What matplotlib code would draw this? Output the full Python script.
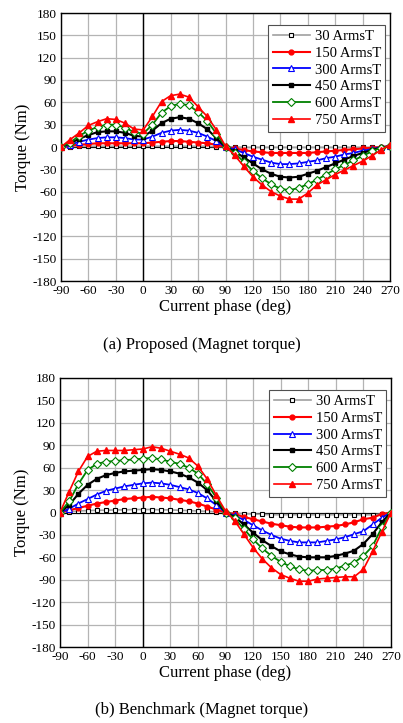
import numpy as np
import matplotlib
matplotlib.use("Agg")
import matplotlib.pyplot as plt

plt.rcParams['font.family'] = ['Liberation Serif', 'DejaVu Serif']
plt.rcParams['mathtext.fontset'] = 'stix'
plt.rcParams['axes.unicode_minus'] = False

phase = list(range(-90, 271, 10))
labels = ["30 ArmsT", "150 ArmsT", "300 ArmsT", "450 ArmsT", "600 ArmsT", "750 ArmsT"]

# (a) Proposed
a_30 = [0, 0.5, 1, 1, 1, 1, 1, 1, 1, 1, 1, 1, 1, 1, 1, 1, 1, 0.5, 0.5,
        0, -0.5, -0.5, -0.5, -0.5, -0.5, -0.5, -0.5, -0.5, -0.5, -0.5, -0.5, -0.5, -0.5, -0.5, -0.5, 0, 0.5]
a_150 = [0, 2, 3, 4, 5, 5, 5, 5, 5, 5, 6, 7, 8, 8, 7, 6, 5, 3, 0,
         -2, -4, -6, -7, -8, -8, -8, -8, -8, -7, -6, -5, -4, -3, -2, -1, 0, 1]
a_300 = [0, 3, 7, 10, 12, 13, 13, 12, 10, 10, 14, 19, 22, 23, 22, 19, 14, 8, 0,
         -3, -8, -13, -17, -21, -23, -23, -22, -20, -18, -15, -13, -10, -8, -5, -3, 0, 1]
a_450 = [0, 5, 11, 16, 20, 21, 21, 19, 15, 14, 22, 32, 38, 40, 38, 32, 24, 12, 0,
         -6, -14, -22, -30, -36, -40, -41, -40, -36, -32, -27, -22, -17, -12, -8, -4, -1, 1]
a_600 = [0, 6, 15, 22, 27, 30, 30, 26, 20, 18, 30, 46, 55, 58, 56, 47, 35, 18, 0,
         -8, -20, -32, -42, -50, -56, -58, -55, -50, -44, -37, -30, -24, -18, -12, -6, -1, 1]
a_750 = [0, 10, 19, 29, 34, 38, 37, 32, 24, 23, 41, 61, 69, 71, 67, 54, 41, 23, 1,
         -11, -26, -40, -51, -60, -66, -70, -70, -62, -51, -44, -37, -31, -25, -19, -12, -4, 3]

# (b) Benchmark
b_30 = [0, 1, 2, 2.5, 3, 3, 3.5, 3.5, 4, 4, 4, 3.5, 3.5, 3, 2.5, 2, 1.5, 1, 0,
        -1, -1.5, -2, -2.5, -3, -3, -3, -3, -3, -3, -3, -3, -3, -3, -3, -3, -2, 0]
b_150 = [0, 3, 6, 9, 12, 14, 16, 18, 19, 20, 21, 20, 19, 17, 15, 12, 8, 4, 0,
         -2, -6, -9, -12, -15, -17, -19, -20, -20, -20, -19, -18, -16, -13, -9, -7, -2, 0]
b_300 = [0, 5, 12, 18, 24, 29, 32, 35, 37, 39, 40, 39, 37, 34, 31, 26, 19, 10, 0,
         -4, -10, -17, -24, -30, -35, -38, -40, -40, -40, -38, -36, -33, -29, -25, -16, -7, 0]
b_450 = [0, 10, 25, 37, 45, 50, 53, 55, 56, 57, 58, 57, 55, 52, 47, 40, 30, 15, 0,
         -6, -16, -27, -37, -45, -52, -56, -59, -60, -60, -60, -58, -55, -51, -42, -29, -13, 0]
b_600 = [0, 15, 38, 57, 65, 68, 69, 70, 71, 72, 73, 71, 68, 65, 60, 52, 38, 20, 0,
         -8, -22, -36, -48, -58, -66, -72, -76, -78, -77, -77, -75, -71, -67, -58, -45, -20, 0]
b_750 = [0, 28, 55, 75, 82, 83, 83, 83, 84, 85, 88, 86, 82, 78, 73, 62, 45, 23, 2,
         -11, -29, -47, -62, -74, -83, -88, -92, -92, -89, -88, -87, -86, -86, -76, -52, -26, 0]

styles = [
    dict(color='#a0a0a0', marker='s', mfc='white', mec='black', ms=3.2, lw=1.2, mew=0.8),
    dict(color='#ff0000', marker='o', mfc='#ff0000', mec='#ff0000', ms=3.5, lw=1.5),
    dict(color='#0000ff', marker='^', mfc='white', mec='#0000ff', ms=4.5, lw=1.3, mew=0.8),
    dict(color='black', marker='s', mfc='black', mec='black', ms=3.5, lw=1.5),
    dict(color='#008000', marker='D', mfc='white', mec='#008000', ms=3.8, lw=1.3, mew=0.8),
    dict(color='#ff0000', marker='^', mfc='#ff0000', mec='#ff0000', ms=4.5, lw=1.2),
]

W, H = 403, 723
fig = plt.figure(figsize=(W / 100, H / 100), dpi=100)


def panel(rect, series, caption, cap_y):
    ax = fig.add_axes(rect)
    ax.set_axisbelow(True)
    for s, lab, st in zip(series, labels, styles):
        ax.plot(phase, s, label=lab, **st, zorder=3)
    ax.set_xlim(-90, 270)
    ax.set_ylim(-180, 180)
    ax.set_xticks(range(-90, 271, 30))
    ax.set_yticks(range(-180, 181, 30))
    ax.grid(True, color='#b4b4b4', lw=0.9)
    ax.axvline(0, color='black', lw=1.0, zorder=2)
    ax.axhline(0, color='black', lw=0.8, zorder=2)
    ax.tick_params(labelsize=9.5, length=0, pad=3)
    for sp in ax.spines.values():
        sp.set_color('black')
        sp.set_linewidth(1.0)
    ax.set_ylabel('Torque (Nm)', fontsize=12, labelpad=1)
    ax.set_xlabel('Current phase (deg)', fontsize=12, labelpad=1)
    leg = ax.legend(loc='upper right', bbox_to_anchor=(0.995, 0.965), fontsize=10.5,
                    numpoints=1, handlelength=2.6, handletextpad=0.3,
                    markerfirst=True, frameon=True, fancybox=False,
                    borderpad=0.3, labelspacing=0.25, borderaxespad=0.2)
    leg.get_frame().set_edgecolor('#505050')
    leg.get_frame().set_linewidth(0.8)
    leg.get_frame().set_alpha(1)
    for t in leg.get_texts():
        t.set_ha('right')
    leg._legend_box.align = 'right'
    fig.text(0.5, cap_y, caption, ha='center', va='center', fontsize=12)
    return ax


panel([61 / W, 1 - 281 / H, 329 / W, 268 / H],
      [a_30, a_150, a_300, a_450, a_600, a_750],
      '(a) Proposed (Magnet torque)', 1 - 345 / H)
panel([60 / W, 1 - 647 / H, 331 / W, 269 / H],
      [b_30, b_150, b_300, b_450, b_600, b_750],
      '(b) Benchmark (Magnet torque)', 1 - 710 / H)

fig.savefig('out.png', dpi=100, facecolor='white')
